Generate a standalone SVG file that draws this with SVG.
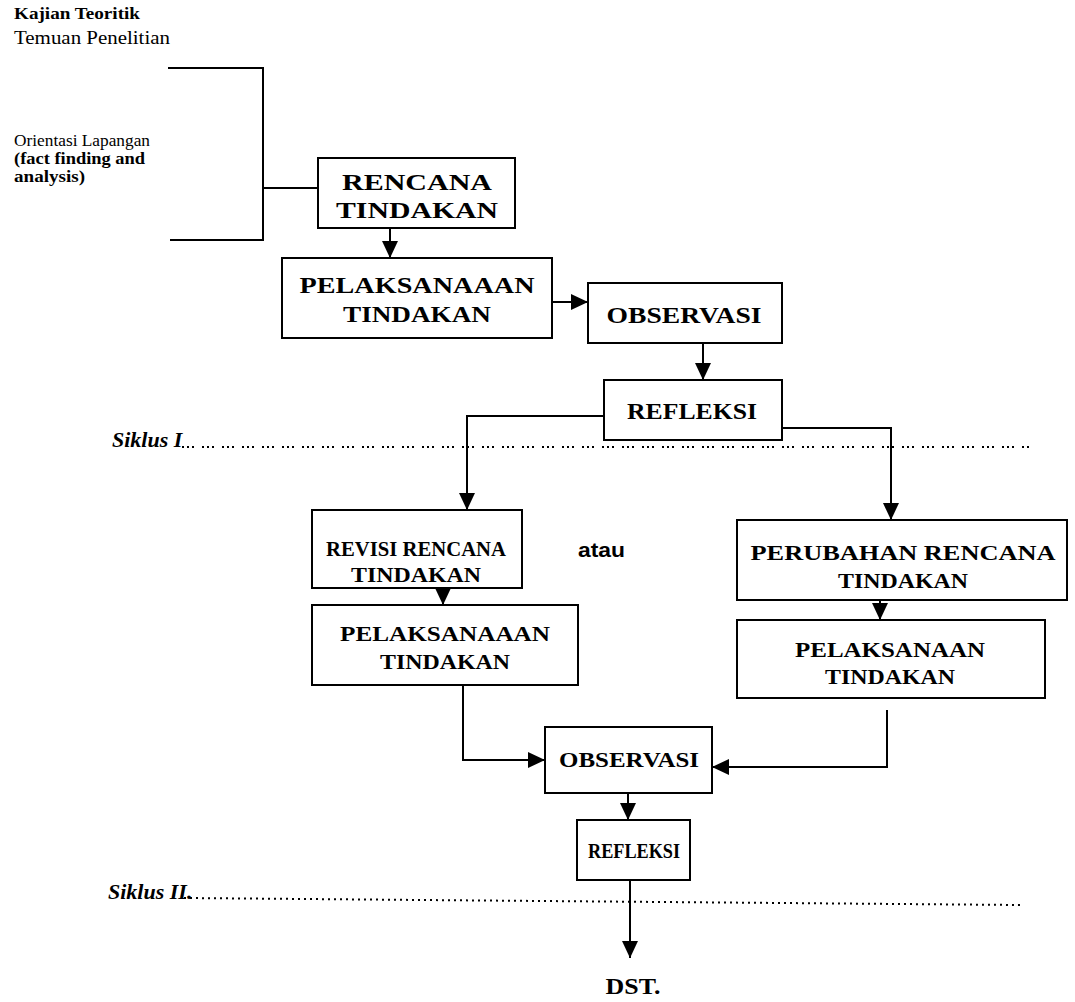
<svg xmlns="http://www.w3.org/2000/svg" width="1075" height="1002" viewBox="0 0 1075 1002">
<defs>
<marker id="ah" markerUnits="userSpaceOnUse" markerWidth="18" markerHeight="18" viewBox="0 0 18 18" refX="17" refY="9" orient="auto">
<path d="M0,1 L17,9 L0,17 Z" fill="#000"/>
</marker>
</defs>
<style>
.box{fill:#fff;stroke:#000;stroke-width:2}
.lbl{font-family:"Liberation Serif","DejaVu Serif",serif;font-weight:bold;font-size:23px;text-anchor:middle;fill:#000}
.sm{font-size:21px}
.side{font-family:"Liberation Serif","DejaVu Serif",serif;fill:#000}
.cyc{font-family:"Liberation Serif",serif;font-style:italic;font-weight:bold;font-size:22px;fill:#000}
.ln{fill:none;stroke:#000;stroke-width:2}
.arr{fill:none;stroke:#000;stroke-width:2;marker-end:url(#ah)}
.dot1{fill:none;stroke:#000;stroke-width:2;stroke-dasharray:2 3 2 3 2 8}
.dot2{fill:none;stroke:#000;stroke-width:2;stroke-dasharray:2 4}
</style>
<rect width="1075" height="1002" fill="#fff"/>

<g id="sources">
<text class="side" x="14" y="19" font-size="17" font-weight="bold" textLength="126" lengthAdjust="spacingAndGlyphs">Kajian Teoritik</text>
<text class="side" x="14" y="44" font-size="19" textLength="156" lengthAdjust="spacingAndGlyphs">Temuan Penelitian</text>
<text class="side" x="14" y="146" font-size="17" textLength="136" lengthAdjust="spacingAndGlyphs">Orientasi Lapangan</text>
<text class="side" x="14" y="164" font-size="16" font-weight="bold" textLength="131" lengthAdjust="spacingAndGlyphs">(fact finding and</text>
<text class="side" x="14" y="182" font-size="16" font-weight="bold" textLength="71" lengthAdjust="spacingAndGlyphs">analysis)</text>
</g>

<g id="connectors">
<path class="ln" d="M168,68 H263 V240 H170"/>
<path class="ln" d="M263,188 H318"/>
<path class="arr" d="M390,228 V258"/>
<path class="arr" d="M552,302 H588"/>
<path class="arr" d="M703,343 V380"/>
<path class="arr" d="M604,416 H467 V510"/>
<path class="arr" d="M782,428 H891 V520"/>
<path class="arr" d="M443,588 V605"/>
<path class="arr" d="M880,600 V620"/>
<path class="arr" d="M463,685 V760 H545"/>
<path class="arr" d="M887,710 V767 H712"/>
<path class="arr" d="M628,793 V820"/>
<path class="arr" d="M630,880 V958"/>
</g>

<g id="cycle1">
<text class="cyc" x="112" y="447">Siklus I</text>
<path class="dot1" d="M182,447 H1030"/>
</g>
<g id="cycle2">
<text class="cyc" x="108" y="899">Siklus II.</text>
<path class="dot2" d="M184,898 L1020,905"/>
</g>

<g id="rencana">
<rect class="box" x="318" y="158" width="197" height="70"/>
<text class="lbl" x="417" y="190" textLength="150" lengthAdjust="spacingAndGlyphs">RENCANA</text>
<text class="lbl" x="417" y="218" textLength="162" lengthAdjust="spacingAndGlyphs">TINDAKAN</text>
</g>
<g id="pelaksanaan1">
<rect class="box" x="282" y="258" width="270" height="80"/>
<text class="lbl" x="417" y="293" textLength="235" lengthAdjust="spacingAndGlyphs">PELAKSANAAAN</text>
<text class="lbl" x="417" y="322" textLength="148" lengthAdjust="spacingAndGlyphs">TINDAKAN</text>
</g>
<g id="observasi1">
<rect class="box" x="588" y="283" width="194" height="60"/>
<text class="lbl" x="684" y="323" textLength="155" lengthAdjust="spacingAndGlyphs">OBSERVASI</text>
</g>
<g id="refleksi1">
<rect class="box" x="604" y="380" width="178" height="60"/>
<text class="lbl" x="692" y="419" textLength="130" lengthAdjust="spacingAndGlyphs">REFLEKSI</text>
</g>
<g id="revisi">
<rect class="box" x="312" y="510" width="210" height="78"/>
<text class="lbl sm" x="416" y="556" textLength="180" lengthAdjust="spacingAndGlyphs">REVISI RENCANA</text>
<text class="lbl sm" x="416" y="582" textLength="130" lengthAdjust="spacingAndGlyphs">TINDAKAN</text>
</g>
<g id="atau">
<text x="578" y="557" font-family="Liberation Sans, Arial, sans-serif" font-weight="bold" font-size="21" fill="#000" textLength="47" lengthAdjust="spacingAndGlyphs">atau</text>
</g>
<g id="perubahan">
<rect class="box" x="737" y="520" width="330" height="80"/>
<text class="lbl sm" x="903" y="560" textLength="305" lengthAdjust="spacingAndGlyphs">PERUBAHAN RENCANA</text>
<text class="lbl sm" x="903" y="588" textLength="130" lengthAdjust="spacingAndGlyphs">TINDAKAN</text>
</g>
<g id="pelaksanaan2">
<rect class="box" x="312" y="605" width="266" height="80"/>
<text class="lbl sm" x="445" y="641" textLength="210" lengthAdjust="spacingAndGlyphs">PELAKSANAAAN</text>
<text class="lbl sm" x="445" y="669" textLength="130" lengthAdjust="spacingAndGlyphs">TINDAKAN</text>
</g>
<g id="pelaksanaan3">
<rect class="box" x="737" y="620" width="308" height="78"/>
<text class="lbl sm" x="890" y="657" textLength="190" lengthAdjust="spacingAndGlyphs">PELAKSANAAN</text>
<text class="lbl sm" x="890" y="684" textLength="130" lengthAdjust="spacingAndGlyphs">TINDAKAN</text>
</g>
<g id="observasi2">
<rect class="box" x="545" y="727" width="167" height="66"/>
<text class="lbl sm" x="629" y="767" textLength="140" lengthAdjust="spacingAndGlyphs">OBSERVASI</text>
</g>
<g id="refleksi2">
<rect class="box" x="577" y="820" width="113" height="60"/>
<text class="lbl sm" x="634" y="858" textLength="92" lengthAdjust="spacingAndGlyphs">REFLEKSI</text>
</g>
<g id="dst">
<text class="lbl" x="633" y="994" textLength="55" lengthAdjust="spacingAndGlyphs">DST.</text>
</g>
</svg>
